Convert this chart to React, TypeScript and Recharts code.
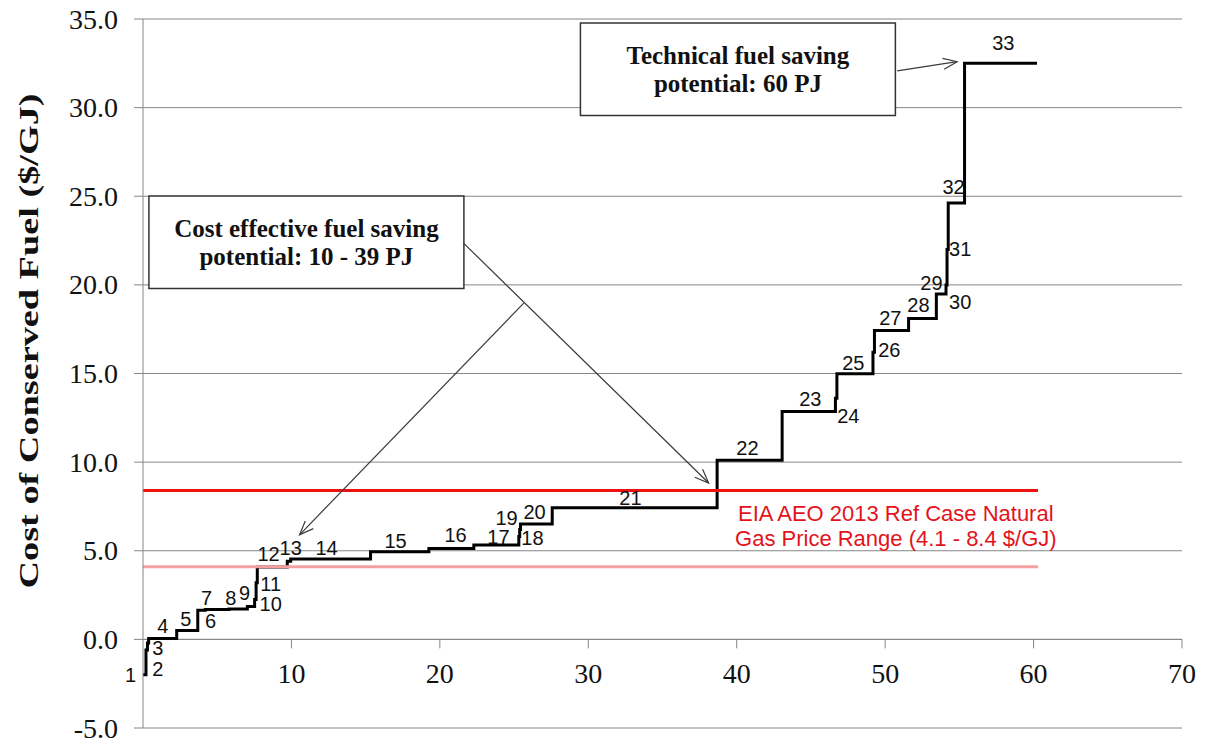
import React from 'react';
import {
  ComposedChart, Line, XAxis, YAxis, CartesianGrid,
  ReferenceLine, ReferenceArea, ReferenceDot,
} from 'recharts';

// fuel efficiency measures, in order of cost
const MEASURES = [
  1, 2, 3, 4, 5, 6, 7, 8, 9, 10, 11, 12, 13, 14, 15, 16, 17,
  18, 19, 20, 21, 22, 23, 24, 25, 26, 27, 28, 29, 30, 31, 32, 33,
];
// fuel saved by each measure (PJ)
const SAVINGS_PJ = [
  0.2, 0.1, 0.08, 1.89, 1.42, 0.51, 1.6, 1.23, 0.49, 0.1, 0.08, 2.02, 0.23, 5.38, 3.93, 3.03, 3.03,
  0.06, 0.05, 2.14, 11.11, 4.38, 3.59, 0.1, 2.43, 0.1, 2.3, 1.87, 0.65, 0.07, 0.08, 1.1, 4.88,
];
// cost of conserved fuel ($/GJ)
const COST = [
  -2.0, -0.6, -0.2, 0.05, 0.5, 1.65, 1.69, 1.72, 1.85, 2.25, 3.2, 4.09, 4.41, 4.54, 4.95, 5.12, 5.33,
  5.8, 6.2, 6.51, 7.42, 10.1, 12.86, 13.6, 14.98, 16.2, 17.42, 18.11, 19.48, 20.0, 22.0, 24.62, 32.5,
];

const X_TICKS = [10, 20, 30, 40, 50, 60, 70];
const Y_TICKS = [-5, 0, 5, 10, 15, 20, 25, 30, 35];

// EIA AEO 2013 natural gas price range ($/GJ)
const GAS_PRICE_LOW = 4.1;
const GAS_PRICE_HIGH = 8.4;
const PRICE_LINE_END = 60.3;

// where each measure number sits (data units)
const LABEL_POS: [number, number][] = [
  [-0.83, -2.03], [0.99, -1.65], [0.99, -0.5], [1.33, 0.73], [2.88, 1.13], [4.56, 1.01],
  [4.29, 2.36], [5.91, 2.36], [6.85, 2.59], [8.6, 1.97], [8.6, 3.15], [8.46, 4.79],
  [9.95, 5.18], [12.37, 5.18], [17.02, 5.57], [21.06, 5.91], [23.95, 5.8], [26.24, 5.74],
  [24.49, 6.87], [26.38, 7.21], [32.84, 8.0], [40.72, 10.81], [44.96, 13.57], [47.52, 12.61],
  [47.86, 15.6], [50.28, 16.33], [50.35, 18.13], [52.24, 18.86], [53.12, 20.1], [55.06, 19.03],
  [55.06, 22.02], [54.61, 25.5], [57.96, 33.67],
];

const SERIF = '"Liberation Serif", "Times New Roman", serif';
const SANS = '"Liberation Sans", Arial, sans-serif';
const GRID = '#868686';

const W = 1205;
const H = 742;
const MARGIN = { top: 19, right: 23, bottom: 14, left: 0 };

const stepData: { x: number; cost: number }[] = [];
let cum = 0;
MEASURES.forEach((_, i) => {
  stepData.push({ x: Math.round(cum * 100) / 100, cost: COST[i] });
  cum += SAVINGS_PJ[i];
});
stepData.push({ x: Math.round(cum * 100) / 100, cost: COST[COST.length - 1] });

function YTick({ x, y, payload }: any) {
  return (
    <text x={x} y={y + 9.5} textAnchor="end" fontFamily={SERIF} fontSize={28} fill="#111">
      {Number(payload.value).toFixed(1)}
    </text>
  );
}

// x axis crosses at cost = 0, so its ticks are drawn on that line
function xTickShape(value: number) {
  return (p: any) => (
    <g>
      <line x1={p.cx} x2={p.cx} y1={p.cy} y2={p.cy + 9} stroke={GRID} />
      <text x={p.cx} y={p.cy + 44} textAnchor="middle" fontFamily={SERIF} fontSize={28} fill="#111">
        {value}
      </text>
    </g>
  );
}

function arrowShape(props: any) {
  const { x1, y1, x2, y2 } = props;
  const ang = Math.atan2(y2 - y1, x2 - x1);
  const len = 15;
  const spread = 0.38;
  const a = [x2 - len * Math.cos(ang - spread), y2 - len * Math.sin(ang - spread)];
  const b = [x2 - len * Math.cos(ang + spread), y2 - len * Math.sin(ang + spread)];
  return (
    <g stroke="#3a3a3a" strokeWidth={1.2} fill="none">
      <line x1={x1} y1={y1} x2={x2} y2={y2} />
      <polyline points={`${a[0]},${a[1]} ${x2},${y2} ${b[0]},${b[1]}`} />
    </g>
  );
}

function boxLabel(lines: string[]) {
  return ({ viewBox }: any) => {
    const cx = viewBox.x + viewBox.width / 2;
    return (
      <text textAnchor="middle" fontFamily={SERIF} fontWeight="bold" fontSize={25} fill="#111">
        <tspan x={cx} y={viewBox.y + 41}>{lines[0]}</tspan>
        <tspan x={cx} y={viewBox.y + 69}>{lines[1]}</tspan>
      </text>
    );
  };
}

function yTitle() {
  return (
    <text
      transform="translate(38,341) rotate(-90)"
      textAnchor="middle"
      fontFamily={SERIF}
      fontWeight="bold"
      fontSize={28}
      fill="#111"
      textLength={495}
      lengthAdjust="spacingAndGlyphs"
    >
      Cost of Conserved Fuel ($/GJ)
    </text>
  );
}

export default function App() {
  return (
    <div style={{ position: 'absolute', left: 0, top: 0, background: '#fff' }}>
      <ComposedChart width={W} height={H} margin={MARGIN}>
        <CartesianGrid horizontal vertical={false} stroke={GRID} />
        <XAxis
          type="number"
          dataKey="x"
          domain={[0, 70]}
          ticks={X_TICKS}
          allowDataOverflow
          hide
        />
        <YAxis
          type="number"
          domain={[-5, 35]}
          ticks={Y_TICKS}
          allowDataOverflow
          width={143}
          axisLine={{ stroke: GRID }}
          tickLine={{ stroke: GRID }}
          tickSize={9}
          tickMargin={16}
          tick={<YTick />}
          label={yTitle}
        />
        <ReferenceLine y={0} stroke={GRID} />
        {X_TICKS.map((t) => (
          <ReferenceDot key={`xt${t}`} x={t} y={0} r={0} ifOverflow="visible" shape={xTickShape(t)} />
        ))}
        <Line
          data={stepData}
          dataKey="cost"
          type="stepAfter"
          stroke="#000"
          strokeWidth={3}
          dot={false}
          isAnimationActive={false}
        />
        <ReferenceLine
          segment={[{ x: 0, y: GAS_PRICE_HIGH }, { x: PRICE_LINE_END, y: GAS_PRICE_HIGH }]}
          stroke="#ee1111"
          strokeWidth={3}
          ifOverflow="visible"
        />
        <ReferenceLine
          segment={[{ x: 0, y: GAS_PRICE_LOW }, { x: PRICE_LINE_END, y: GAS_PRICE_LOW }]}
          stroke="#f5a0a0"
          strokeWidth={3}
          ifOverflow="visible"
        />
        {MEASURES.map((m, i) => (
          <ReferenceDot
            key={m}
            x={LABEL_POS[i][0]}
            y={LABEL_POS[i][1]}
            r={0}
            ifOverflow="visible"
            shape={(p: any) => (
              <text
                x={p.cx}
                y={p.cy}
                textAnchor="middle"
                dominantBaseline="central"
                fontFamily={SANS}
                fontSize={20}
                fill="#111"
              >
                {m}
              </text>
            )}
          />
        ))}
        <ReferenceDot
          x={50.72}
          y={6.69}
          r={0}
          ifOverflow="visible"
          shape={(p: any) => (
            <text textAnchor="middle" fontFamily={SANS} fontSize={22} fill="#e3131b">
              <tspan x={p.cx} y={p.cy}>EIA AEO 2013 Ref Case Natural</tspan>
              <tspan x={p.cx} y={p.cy + 25}>Gas Price Range (4.1 - 8.4 $/GJ)</tspan>
            </text>
          )}
        />
        {/* annotation boxes and arrows */}
        <ReferenceLine segment={[{ x: 21.58, y: 22.37 }, { x: 38.11, y: 8.82 }]} ifOverflow="visible" shape={arrowShape} />
        <ReferenceLine segment={[{ x: 25.65, y: 18.97 }, { x: 10.55, y: 5.9 }]} ifOverflow="visible" shape={arrowShape} />
        <ReferenceLine segment={[{ x: 50.81, y: 32.07 }, { x: 54.85, y: 32.59 }]} ifOverflow="visible" shape={arrowShape} />
        <ReferenceArea
          x1={0.4}
          x2={21.62}
          y1={19.8}
          y2={25.02}
          fill="#fff"
          fillOpacity={1}
          stroke="#333"
          strokeWidth={1.5}
          ifOverflow="visible"
          label={boxLabel(['Cost effective fuel saving', 'potential:  10 - 39 PJ'])}
        />
        <ReferenceArea
          x1={29.47}
          x2={50.69}
          y1={29.56}
          y2={34.78}
          fill="#fff"
          fillOpacity={1}
          stroke="#333"
          strokeWidth={1.5}
          ifOverflow="visible"
          label={boxLabel(['Technical fuel saving', 'potential:  60 PJ'])}
        />
      </ComposedChart>
    </div>
  );
}
